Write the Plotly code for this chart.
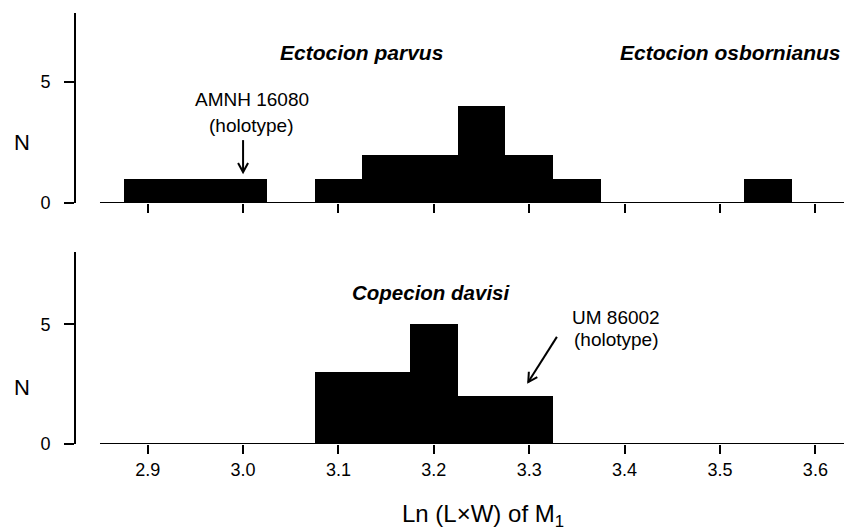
import plotly.graph_objects as go

# Bin centres (bin width 0.05) and counts for each taxon
bin_width = 0.05
parvus_x = [2.90, 2.95, 3.00, 3.10, 3.15, 3.20, 3.25, 3.30, 3.35]
parvus_n = [1, 1, 1, 1, 2, 2, 4, 2, 1]
osbornianus_x = [3.55]
osbornianus_n = [1]
davisi_x = [3.10, 3.15, 3.20, 3.25, 3.30]
davisi_n = [3, 3, 5, 2, 2]

x_ticks = [2.9, 3.0, 3.1, 3.2, 3.3, 3.4, 3.5, 3.6]
x_tick_text = ["2.9", "3.0", "3.1", "3.2", "3.3", "3.4", "3.5", "3.6"]
y_ticks = [0, 5]

FONT = "Liberation Sans, Arial, Helvetica, sans-serif"
W, H = 844, 530
M_L, M_R, M_T, M_B = 75, 0, 13, 86
X_RANGE = [2.8238, 3.630]
Y1_RANGE = [0, 7.85]
Y2_RANGE = [0, 8.03]
Y1_DOMAIN = [0.559, 1]
Y2_DOMAIN = [0, 0.4455]
BASE_START = 2.85

fig = go.Figure()

bar_style = dict(marker=dict(color="black", line=dict(width=0)),
                 width=bin_width, showlegend=False, hoverinfo="x+y")
fig.add_trace(go.Bar(x=parvus_x, y=parvus_n, xaxis="x", yaxis="y", **bar_style))
fig.add_trace(go.Bar(x=osbornianus_x, y=osbornianus_n, xaxis="x", yaxis="y", **bar_style))
fig.add_trace(go.Bar(x=davisi_x, y=davisi_n, xaxis="x2", yaxis="y2", **bar_style))

xaxis_common = dict(range=X_RANGE, showline=False, showgrid=False, zeroline=False,
                    tickvals=x_ticks, ticktext=x_tick_text, ticks="outside",
                    ticklen=9, tickwidth=2, tickcolor="black",
                    tickfont=dict(family=FONT, size=18, color="black"))
yaxis_common = dict(showline=True, linecolor="black", linewidth=2, showgrid=False,
                    zeroline=False, tickvals=y_ticks, ticks="outside", ticklen=10,
                    tickwidth=2, tickcolor="black", ticklabelstandoff=10,
                    tickfont=dict(family=FONT, size=18, color="black"))

fig.update_layout(
    width=W, height=H,
    margin=dict(l=M_L, r=M_R, t=M_T, b=M_B),
    paper_bgcolor="white", plot_bgcolor="white",
    bargap=0,
    xaxis=dict(anchor="y", domain=[0, 1], showticklabels=False, **xaxis_common),
    xaxis2=dict(anchor="y2", domain=[0, 1], showticklabels=True, **xaxis_common),
    yaxis=dict(anchor="free", position=0, domain=Y1_DOMAIN, range=Y1_RANGE, **yaxis_common),
    yaxis2=dict(anchor="free", position=0, domain=Y2_DOMAIN, range=Y2_RANGE, **yaxis_common),
)

# Baselines along N = 0, starting just right of the y axis
for xr, yr in (("x", "y"), ("x2", "y2")):
    fig.add_shape(type="line", xref=xr, yref=yr, x0=BASE_START, x1=X_RANGE[1],
                  y0=0, y1=0, line=dict(color="black", width=2))

# Pixel scales, used to give the arrow heads a fixed on-screen size
plot_w = W - M_L - M_R
plot_h = H - M_T - M_B
px_per_x = plot_w / (X_RANGE[1] - X_RANGE[0])

def px_per_y(domain, yrange):
    return plot_h * (domain[1] - domain[0]) / (yrange[1] - yrange[0])

def arrow(x0, y0, x1, y1, xr, yr, sy, head=9, half=5):
    """Line from (x0, y0) to (x1, y1) with an open V head at the second point."""
    dxp = (x1 - x0) * px_per_x
    dyp = -(y1 - y0) * sy
    length = (dxp ** 2 + dyp ** 2) ** 0.5
    ux, uy = dxp / length, dyp / length
    px, py = -uy, ux
    wings = []
    for s in (1, -1):
        wx = -head * ux + s * half * px
        wy = -head * uy + s * half * py
        wings.append((x1 + wx / px_per_x, y1 - wy / sy))
    line = dict(color="black", width=2)
    fig.add_shape(type="line", xref=xr, yref=yr, x0=x0, y0=y0, x1=x1, y1=y1, line=line)
    path = (f"M {wings[0][0]},{wings[0][1]} L {x1},{y1} L {wings[1][0]},{wings[1][1]}")
    fig.add_shape(type="path", xref=xr, yref=yr, path=path, line=line)

def label(text, x, y, xr, yr, size=19, xanchor="center"):
    fig.add_annotation(text=text, x=x, y=y, xref=xr, yref=yr, showarrow=False,
                       xanchor=xanchor, yanchor="middle",
                       font=dict(family=FONT, size=size, color="black"))

sy1 = px_per_y(Y1_DOMAIN, Y1_RANGE)
sy2 = px_per_y(Y2_DOMAIN, Y2_RANGE)

# Taxon names
label("<b><i>Ectocion parvus</i></b>", 3.124, 6.2, "x", "y", size=21)
label("<b><i>Ectocion osbornianus</i></b>", 3.629, 6.2, "x", "y", size=21, xanchor="right")
label("<b><i>Copecion davisi</i></b>", 3.198, 6.32, "x2", "y2", size=20.5)

# Holotype call-outs
label("AMNH 16080", 3.009, 4.26, "x", "y")
label("(holotype)", 3.009, 3.22, "x", "y")
arrow(3.0, 2.6, 3.0, 1.28, "x", "y", sy1)

label("UM 86002", 3.391, 5.31, "x2", "y2")
label("(holotype)", 3.391, 4.39, "x2", "y2")
arrow(3.329, 4.48, 3.299, 2.59, "x2", "y2", sy2)

# Axis titles
label("N", -0.069, 2.52, "paper", "y", size=22)
label("N", -0.069, 2.38, "paper", "y2", size=22)
label("Ln (L×W) of M<sub>1</sub>", 0.5306, -0.167, "paper", "paper", size=24)

fig.write_html("out.html")
